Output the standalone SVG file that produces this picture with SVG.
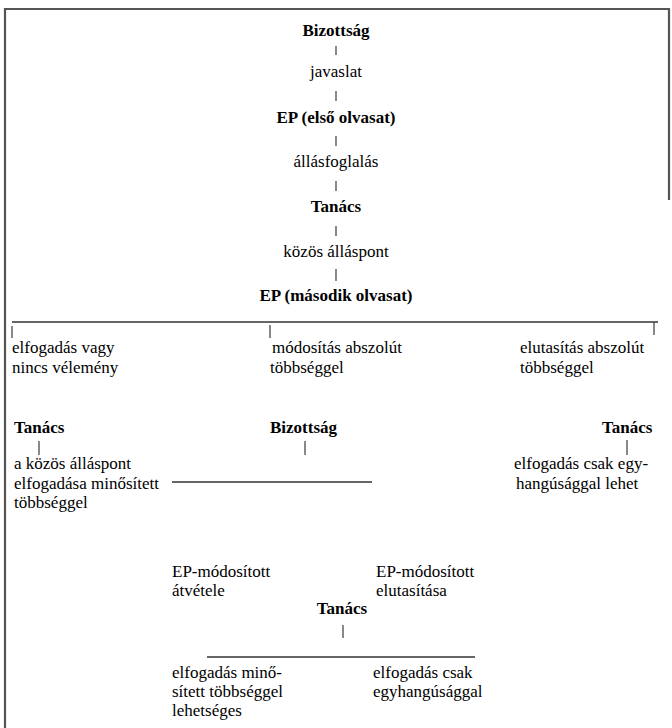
<svg xmlns="http://www.w3.org/2000/svg" width="672" height="728" viewBox="0 0 672 728">
<style>
.t{stroke:#3a3a3a;stroke-width:1.2;fill:none}
.h{stroke:#333;stroke-width:1.3;fill:none}
.frame{stroke:#555;stroke-width:2.2;fill:none}
</style>
<rect width="672" height="728" fill="#fff"/>
<g id="frame"><path class="frame" d="M5,728 V9 H669 V200"/></g>
<g id="connectors">
<line class="t" x1="336" y1="46" x2="336" y2="55"/>
<line class="t" x1="336" y1="91" x2="336" y2="101"/>
<line class="t" x1="336" y1="136" x2="336" y2="146"/>
<line class="t" x1="336" y1="181" x2="336" y2="191"/>
<line class="t" x1="336" y1="226" x2="336" y2="236"/>
<line class="t" x1="336" y1="269" x2="336" y2="281" stroke-width="2"/>
<line class="h" x1="12" y1="322" x2="658" y2="322"/>
<line class="t" x1="12" y1="326" x2="12" y2="338"/>
<line class="t" x1="270" y1="325" x2="270" y2="338"/>
<line class="t" x1="654" y1="322" x2="654" y2="335"/>
<line class="t" x1="39" y1="441" x2="39" y2="455"/>
<line class="t" x1="305" y1="441" x2="305" y2="455"/>
<line class="t" x1="627" y1="440" x2="627" y2="455"/>
<line class="h" x1="172" y1="482" x2="372" y2="482"/>
<line class="t" x1="343" y1="625" x2="343" y2="638"/>
<line class="h" x1="207" y1="657" x2="475" y2="657"/>
</g>
<g id="bizottsag1"><text font-family="serif" font-size="17" font-weight="bold" text-anchor="middle" x="336" y="36">Bizottság</text></g>
<g id="javaslat"><text font-family="serif" font-size="17" text-anchor="middle" x="336" y="77">javaslat</text></g>
<g id="ep1"><text font-family="serif" font-size="17" font-weight="bold" text-anchor="middle" x="336" y="123">EP (első olvasat)</text></g>
<g id="allasfoglalas"><text font-family="serif" font-size="17" text-anchor="middle" x="336" y="167">állásfoglalás</text></g>
<g id="tanacs1"><text font-family="serif" font-size="17" font-weight="bold" text-anchor="middle" x="336" y="212">Tanács</text></g>
<g id="kozos"><text font-family="serif" font-size="17" text-anchor="middle" x="336" y="257">közös álláspont</text></g>
<g id="ep2"><text font-family="serif" font-size="17" font-weight="bold" text-anchor="middle" x="336" y="301">EP (második olvasat)</text></g>
<g id="opt1"><text font-family="serif" font-size="17" x="12" y="353">elfogadás vagy</text><text font-family="serif" font-size="17" x="12" y="373">nincs vélemény</text></g>
<g id="opt2"><text font-family="serif" font-size="17" x="272" y="353">módosítás abszolút</text><text font-family="serif" font-size="17" x="270" y="373">többséggel</text></g>
<g id="opt3"><text font-family="serif" font-size="17" x="520" y="353">elutasítás abszolút</text><text font-family="serif" font-size="17" x="520" y="373">többséggel</text></g>
<g id="tanacs2"><text font-family="serif" font-size="17" font-weight="bold" x="14" y="433">Tanács</text></g>
<g id="bizottsag2"><text font-family="serif" font-size="17" font-weight="bold" x="270" y="433">Bizottság</text></g>
<g id="tanacs3"><text font-family="serif" font-size="17" font-weight="bold" x="602" y="433">Tanács</text></g>
<g id="res1"><text font-family="serif" font-size="17" x="14" y="469">a közös álláspont</text><text font-family="serif" font-size="17" x="14" y="489">elfogadása minősített</text><text font-family="serif" font-size="17" x="14" y="508">többséggel</text></g>
<g id="res3"><text font-family="serif" font-size="17" x="514" y="469">elfogadás csak egy-</text><text font-family="serif" font-size="17" x="516" y="489">hangúsággal lehet</text></g>
<g id="atvetele"><text font-family="serif" font-size="17" x="172" y="577">EP-módosított</text><text font-family="serif" font-size="17" x="172" y="596">átvétele</text></g>
<g id="elutasitasa"><text font-family="serif" font-size="17" x="376" y="577">EP-módosított</text><text font-family="serif" font-size="17" x="376" y="596">elutasítása</text></g>
<g id="tanacs4"><text font-family="serif" font-size="17" font-weight="bold" text-anchor="middle" x="342" y="614">Tanács</text></g>
<g id="res4"><text font-family="serif" font-size="17" x="172" y="678">elfogadás minő-</text><text font-family="serif" font-size="17" x="172" y="697">sített többséggel</text><text font-family="serif" font-size="17" x="172" y="716">lehetséges</text></g>
<g id="res5"><text font-family="serif" font-size="17" x="373" y="678">elfogadás csak</text><text font-family="serif" font-size="17" x="373" y="697">egyhangúsággal</text></g>
</svg>
